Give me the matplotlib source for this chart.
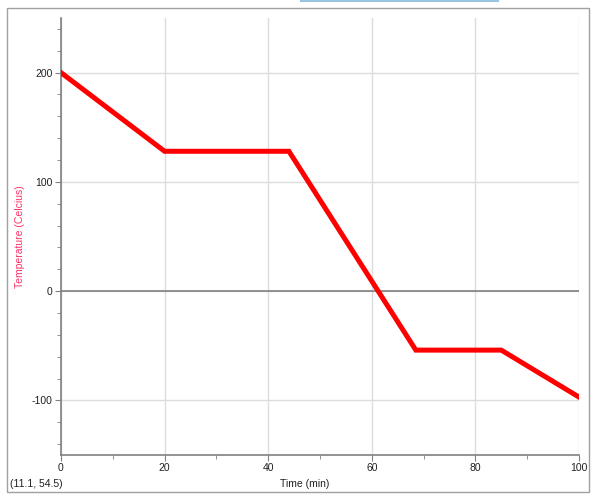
import matplotlib.pyplot as plt
from matplotlib.patches import Rectangle
from matplotlib.lines import Line2D
from matplotlib.ticker import MultipleLocator

# cooling curve readings
time_min = [0, 20, 44, 68.5, 85, 100]
temp_c = [200, 128, 128, -54, -54, -97]

x_ticks = [0, 20, 40, 60, 80, 100]
y_ticks = [-100, 0, 100, 200]

plt.rcParams['font.family'] = ['Liberation Sans', 'DejaVu Sans']
plt.rcParams['axes.unicode_minus'] = False

fig = plt.figure(figsize=(6.07, 5.04), dpi=100)

# outer frame round the graph panel
fig.patches.append(Rectangle((7 / 607, 1 - 492 / 504), 582 / 607, 484 / 504,
                             transform=fig.transFigure, fill=False,
                             edgecolor='#a0a0a0', linewidth=1.0))
# the thin blue strip at the top
fig.lines.append(Line2D([301 / 607, 498 / 607], [1 - 0.5 / 504, 1 - 0.5 / 504],
                        transform=fig.transFigure, color='#9ac4e0', linewidth=1.5))

ax = fig.add_axes([61 / 607, 1 - 455 / 504, 518 / 607, 437 / 504])
ax.plot(time_min, temp_c, color='#ff0000', linewidth=3.6, solid_joinstyle='miter', zorder=3)
ax.axhline(0, color='#808080', linewidth=1.2, zorder=2)

ax.set_xlim(0, 100)
ax.set_ylim(-150, 250)
ax.set_xticks(x_ticks)
ax.set_yticks(y_ticks)
ax.xaxis.set_minor_locator(MultipleLocator(10))
ax.yaxis.set_minor_locator(MultipleLocator(20))
ax.grid(True, which='major', color='#dcdcdc', linewidth=1.0)
ax.set_axisbelow(True)

for side in ['top', 'right']:
    ax.spines[side].set_visible(False)
for side in ['left', 'bottom']:
    ax.spines[side].set_color('#808080')
    ax.spines[side].set_linewidth(1.2)

ax.tick_params(which='both', colors='#808080', labelcolor='#202020', labelsize=7.5)
ax.tick_params(which='major', length=4, pad=2)
ax.tick_params(which='minor', length=3)

fig.text(305 / 607, 1 - 484 / 504, 'Time (min)', ha='center', va='center',
         fontsize=7.5, color='#202020')
fig.text(10 / 607, 1 - 484 / 504, '(11.1, 54.5)', ha='left', va='center',
         fontsize=7.5, color='#202020')
fig.text(20 / 607, 1 - 237 / 504, 'Temperature (Celcius)', ha='center', va='center',
         rotation=90, fontsize=7.5, color='#ff3366')

fig.savefig('out.png', dpi=100)
